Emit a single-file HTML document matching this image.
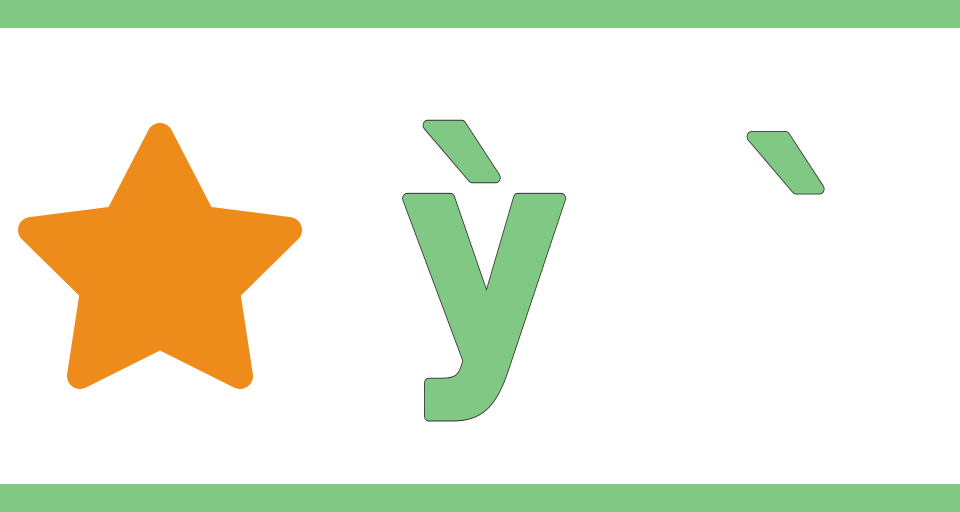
<!DOCTYPE html>
<html><head><meta charset="utf-8"><style>
html,body{margin:0;padding:0;background:#fff;}
svg{display:block;}
</style></head><body>
<svg width="960" height="512" viewBox="0 0 960 512">
<rect x="0" y="0" width="960" height="28" fill="#80c884"/>
<rect x="0" y="484" width="960" height="28" fill="#80c884"/>
<polygon fill="#ee8c1b" stroke="#ee8c1b" stroke-width="26" stroke-linejoin="round"
 points="160,136 203,219 289,230 227,291 240,376 160,336 80,376 93,291 31,230 117,219"/>
<g transform="translate(0,198) scale(1,1.15) translate(0,-197)" font-family="DejaVu Sans, sans-serif" font-weight="bold" font-size="248" stroke-linejoin="round">
<text x="404" y="333" fill="#333" stroke="#333" stroke-width="9.6">ỳ</text>
<text x="404" y="333" fill="#80c884" stroke="#80c884" stroke-width="8">ỳ</text>
<text x="740" y="342" fill="#333" stroke="#333" stroke-width="9.6">`</text>
<text x="740" y="342" fill="#80c884" stroke="#80c884" stroke-width="8">`</text>
</g>
</svg>
</body></html>
